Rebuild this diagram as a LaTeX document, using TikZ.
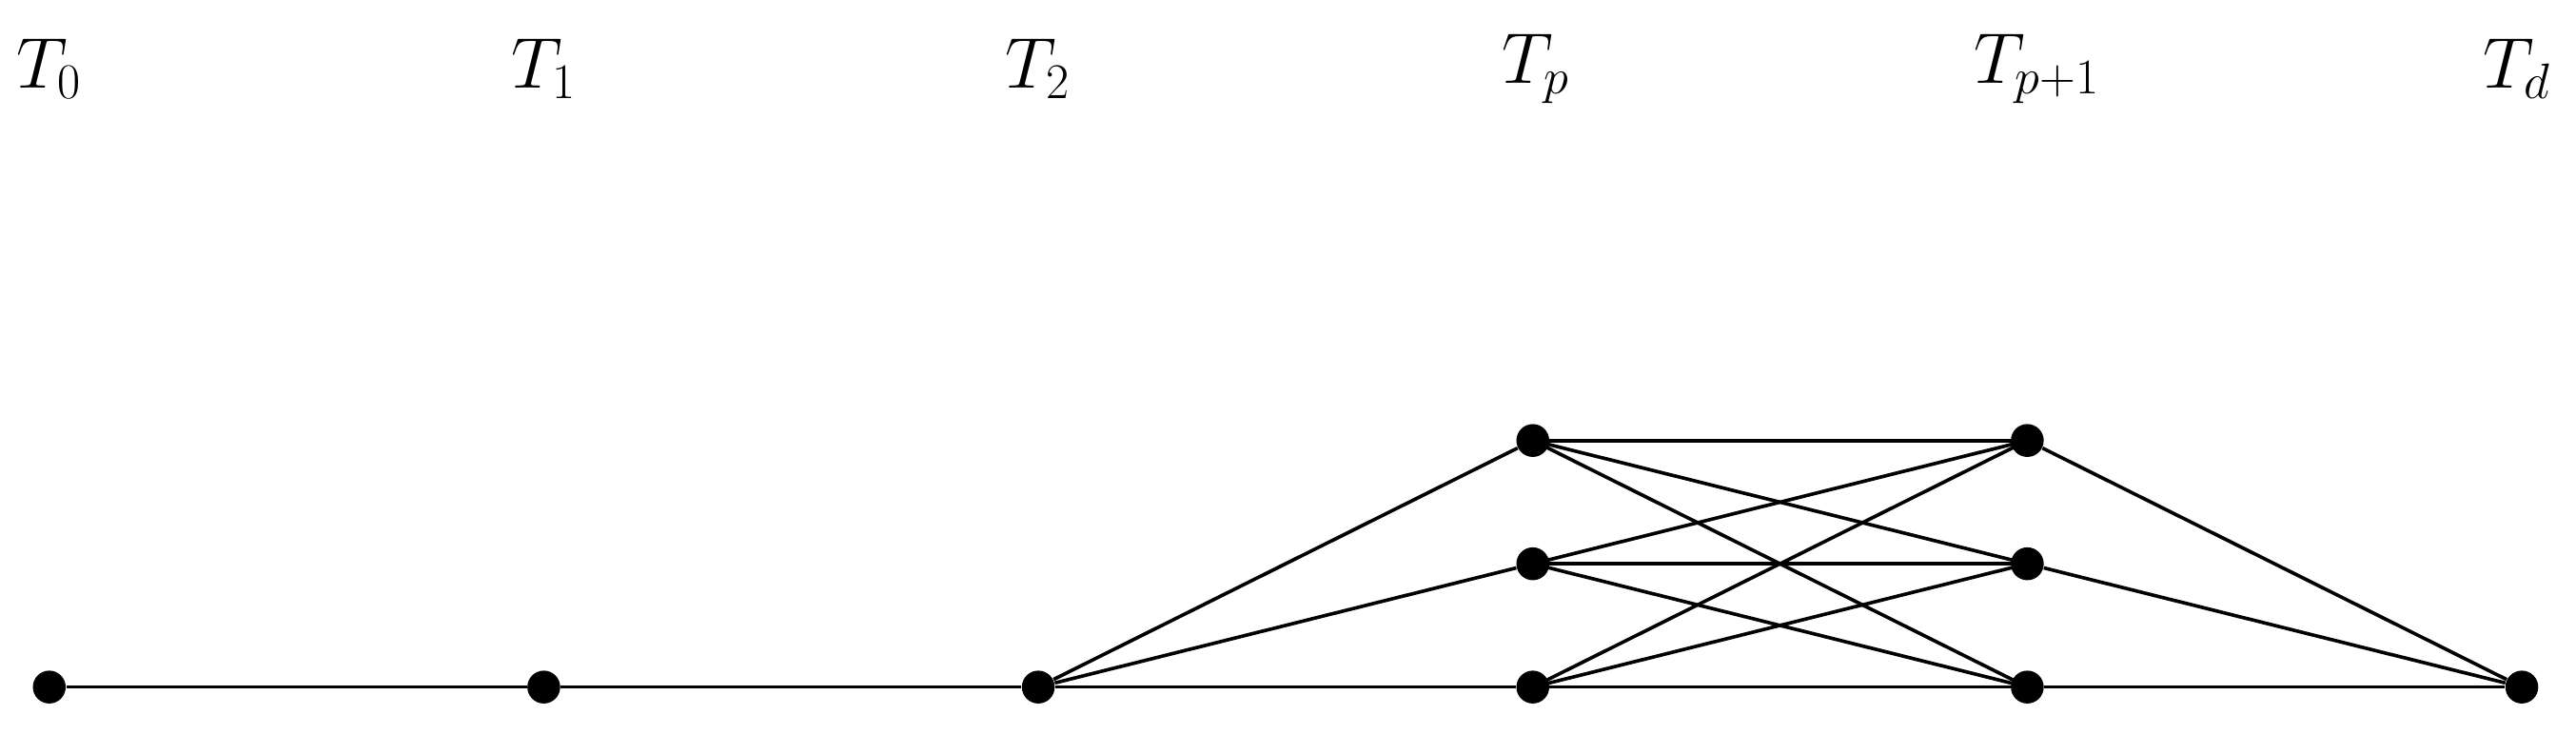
\documentclass[tikz,border=0pt]{standalone}
\begin{document}
\begin{tikzpicture}[x=0.02cm,y=-0.02cm,
  dot/.style={circle,fill=black,inner sep=0pt,minimum size=0.4cm},
  lab/.style={font=\fontsize{25}{30}\selectfont},
  edge/.style={line width=1.2pt}]
\useasboundingbox (0,0) rectangle (1568,447);
\node[dot] (a) at (30,418) {};
\node[dot] (b) at (331,418) {};
\node[dot] (c) at (632,418) {};
\node[dot] (p1) at (933,268) {};
\node[dot] (p2) at (933,343) {};
\node[dot] (p3) at (933,418) {};
\node[dot] (q1) at (1234,268) {};
\node[dot] (q2) at (1234,343) {};
\node[dot] (q3) at (1234,418) {};
\node[dot] (d) at (1535,418) {};
\node[lab] (l0) at (30,42) {$T_0$};
\node[lab] (l1) at (331,42) {$T_1$};
\node[lab] (l2) at (632,42) {$T_2$};
\node[lab] (lp) at (935,42) {$T_p$};
\node[lab] (lq) at (1240,42) {$T_{p+1}$};
\node[lab] (ld) at (1532,42) {$T_d$};
\draw[edge] (a)--(b)--(c)--(p3);
\draw[edge] (c)--(p1); \draw[edge] (c)--(p2);
\foreach \u in {p1,p2,p3}{\foreach \v in {q1,q2,q3}{\draw[edge] (\u.center)--(\v.center);}}
\draw[edge] (q1)--(d); \draw[edge] (q2)--(d); \draw[edge] (q3)--(d);
\end{tikzpicture}
\end{document}
